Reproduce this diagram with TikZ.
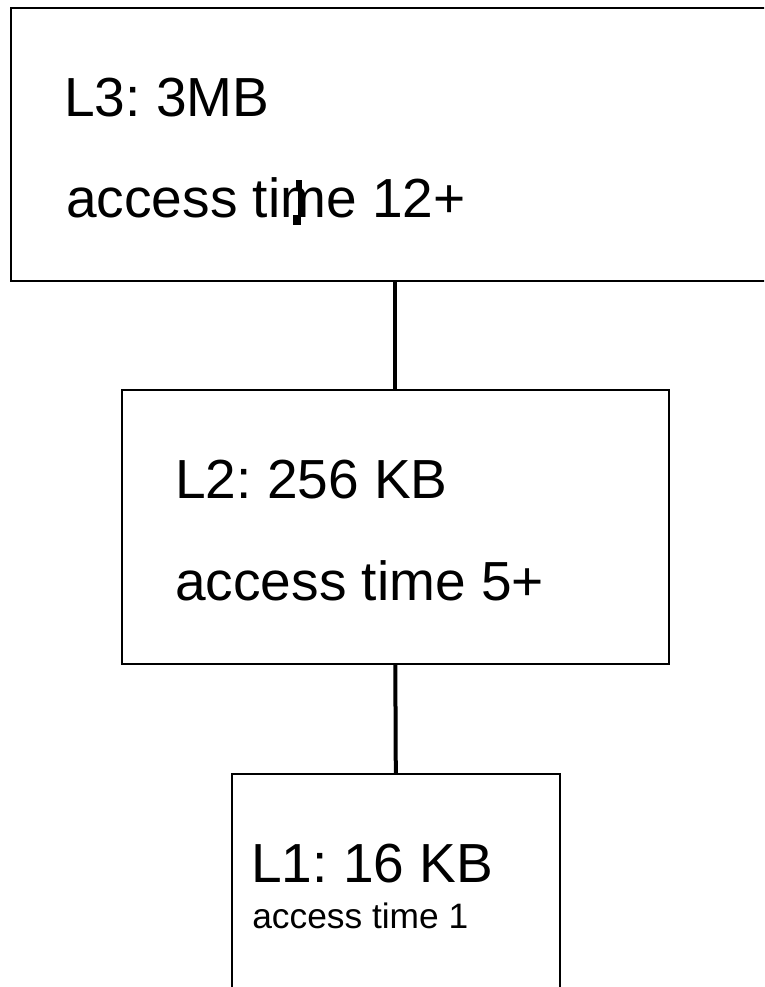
\documentclass[tikz,border=0pt]{standalone}
\usepackage{fontspec}
\setmainfont{Liberation Sans}
\usetikzlibrary{positioning}
\frenchspacing

\tikzset{
  cachebox/.style={draw, line width=1.2pt, inner sep=0pt, anchor=north west},
  bigtxt/.style={font=\fontsize{41.3}{48}\selectfont, inner sep=0pt, anchor=base west},
  smalltxt/.style={font=\fontsize{26.5}{31}\selectfont, inner sep=0pt, anchor=base west},
  link/.style={line width=3pt}
}

\begin{document}
\begin{tikzpicture}[x=0.75pt,y=-0.75pt]
  \useasboundingbox (0,0) rectangle (764,987);
  \clip (0,0) rectangle (764,987);

  % cache levels, largest on top
  \node[cachebox, minimum width=600pt, minimum height=204.75pt] (l3) at (10,7) {};
  \node[cachebox, minimum width=410.25pt, minimum height=205.5pt] (l2) at (121,389) {};
  \node[cachebox, minimum width=246pt, minimum height=180pt] (l1) at (231,773) {};

  \node[bigtxt] (l3size) at (64,117) {L3: 3MB};
  \node[bigtxt] (l3time) at (66,218) {access time 12+};
  \node[bigtxt] (l2size) at (175,498) {L2: 256 KB};
  \node[bigtxt] (l2time) at (175,600) {access time 5+};
  \node[bigtxt] (l1size) at (251,882) {L1: 16 KB};
  \node[smalltxt] (l1time) at (252,928) {access time 1};

  % caret mark over the m
  \fill (296,180) rectangle (302,189);
  \fill (298,189) rectangle (301,215);
  \fill (293,215) rectangle (301,225);

  \draw[link] (l2.north) -- (l2.north |- l3.south);
  \draw[link] (l2.south) -- (l1.north);
\end{tikzpicture}
\end{document}
